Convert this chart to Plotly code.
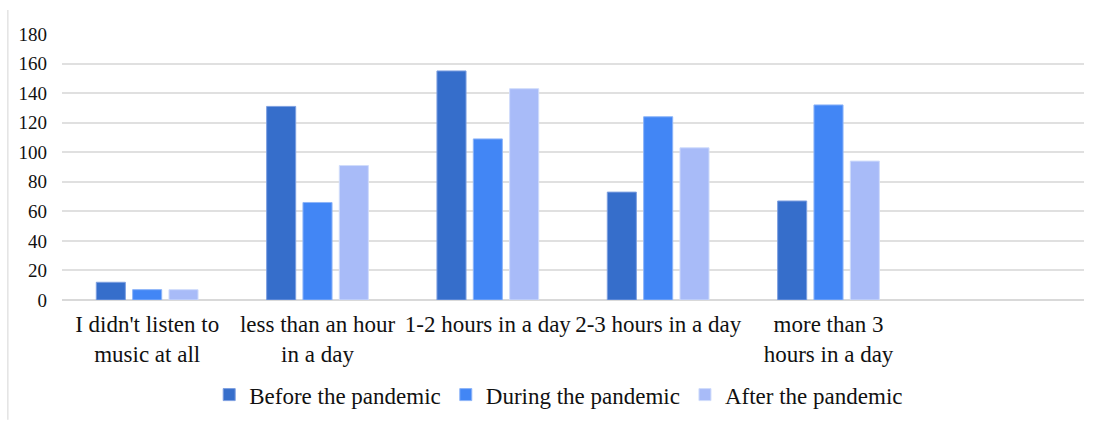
import plotly.graph_objects as go

categories = ["I didn't listen to<br>music at all", "less than an hour<br>in a day",
              "1-2 hours in a day", "2-3 hours in a day", "more than 3<br>hours in a day", " "]
before = [12, 131, 155, 73, 67, None]
during = [7, 66, 109, 124, 132, None]
after = [7, 91, 143, 103, 94, None]
series_names = ["Before the pandemic", "During the pandemic", "After the pandemic"]
colors = ["#366ecb", "#4286f5", "#a8bbf8"]
edge_colors = ["#7d9fe0", "#8db4f8", "#d0dcfb"]
y_ticks = [0, 20, 40, 60, 80, 100, 120, 140, 160, 180]

fig = go.Figure()
for name, vals, c, e in zip(series_names, [before, during, after], colors, edge_colors):
    fig.add_trace(go.Bar(x=categories, y=vals, name=name, marker=dict(color=c, line=dict(color=e, width=1))))

font_family = "Times New Roman"
fig.update_layout(
    width=1096, height=423,
    margin=dict(l=62, r=12, t=34, b=123, autoexpand=False),
    paper_bgcolor="white", plot_bgcolor="white",
    barmode="group", bargap=0.36, bargroupgap=0.2,
    font=dict(family=font_family, color="#111111"),
    legend=dict(orientation="h", x=0.486, xanchor="center", y=-0.275, yanchor="top",
                font=dict(size=23, family=font_family), itemwidth=30, tracegroupgap=0),
    showlegend=True,
)
fig.update_xaxes(type="category", categoryorder="array", categoryarray=categories,
                 showgrid=False, showline=False, ticks="", automargin=False,
                 tickfont=dict(size=23, family=font_family), tickangle=0, ticklabelstandoff=8)
fig.update_yaxes(range=[0, 180], tickvals=y_ticks, showgrid=True, gridcolor="#e0e0e0", gridwidth=1.5,
                 zeroline=True, zerolinecolor="#d9d9d9", zerolinewidth=1.5, automargin=False,
                 tickfont=dict(size=19, family=font_family), ticklen=0, ticks="", ticklabelstandoff=14)
fig.add_shape(type="line", xref="paper", yref="paper", x0=-0.053, x1=-0.053, y0=-0.45, y1=1.09,
              line=dict(color="#e3e3e3", width=1.5))
fig.write_html("out.html")
